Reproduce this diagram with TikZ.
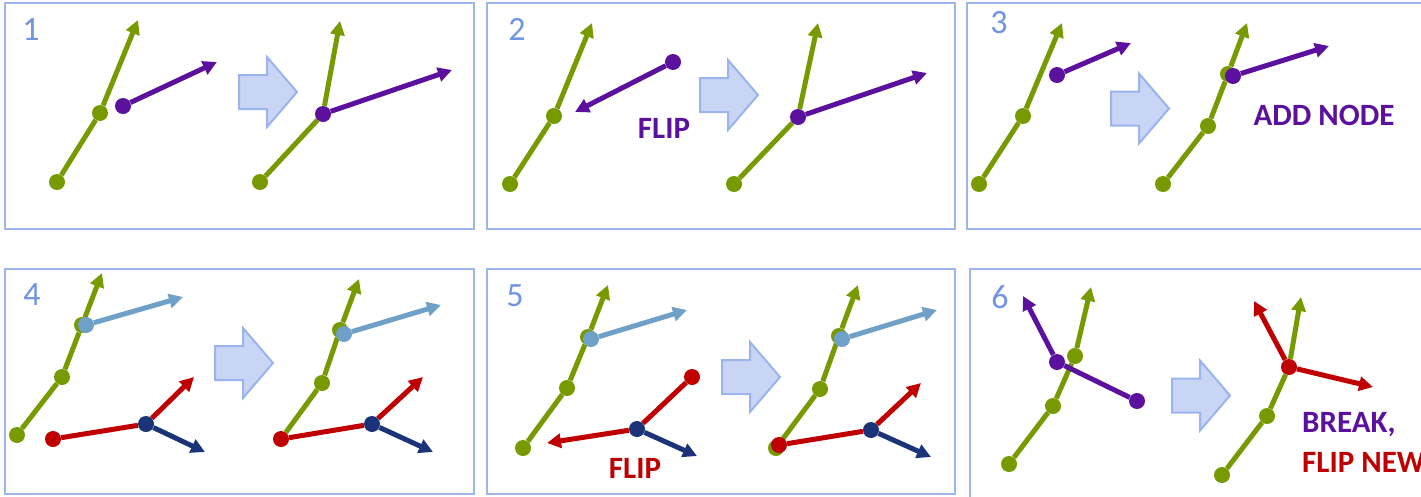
\documentclass[tikz,border=0pt]{standalone}
\usepackage{fontspec}
\setmainfont{Carlito}
\usetikzlibrary{arrows.meta}
\definecolor{cgreen}{HTML}{769A00}
\definecolor{cpurple}{HTML}{5B119E}
\definecolor{clblue}{HTML}{6FA0C8}
\definecolor{cdblue}{HTML}{1B3479}
\definecolor{cred}{HTML}{C00000}
\definecolor{cframe}{HTML}{9FB5EE}
\definecolor{cnum}{HTML}{7093E2}
\definecolor{carrfill}{HTML}{C9D5F5}
\definecolor{carrline}{HTML}{9BB3EE}
\pgfdeclarelayer{bg}
\pgfsetlayers{bg,main}
\tikzset{
  panelframe/.style={draw=cframe,line width=2pt},
  numlabel/.style={text=cnum,inner sep=0pt,font=\fontsize{34}{40}\selectfont},
  steplabel/.style={inner sep=0pt,font=\bfseries\fontsize{31}{36}\selectfont},
  dot/.style={circle,inner sep=0pt,minimum size=16pt},
  gdot/.style={dot,fill=cgreen},
  pdot/.style={dot,fill=cpurple},
  ldot/.style={dot,fill=clblue},
  ddot/.style={dot,fill=cdblue},
  rdot/.style={dot,fill=cred},
  ln/.style={line width=5pt},
  arr/.style={ln,-{Triangle[length=14pt,width=14pt]}},
  bigarrow/.pic={\path[fill=carrfill,draw=carrline,line width=2pt,line join=miter]
    (0,-17) -- (28,-17) -- (28,-35) -- (58,0) -- (28,35) -- (28,17) -- (0,17) -- cycle;}
}
\begin{document}
\begin{tikzpicture}[x=1pt,y=-1pt]
\useasboundingbox (0,0) rectangle (1421,496);
\clip (0,0) rectangle (1421,496);
% frames
\draw[panelframe] (5,3) rectangle (474,229);
\draw[panelframe] (487,3) rectangle (955,229);
\draw[panelframe] (967,3) rectangle (1430,229);
\draw[panelframe] (5,269) rectangle (474,494);
\draw[panelframe] (487,269) rectangle (955,494);
\draw[panelframe] (970,269) rectangle (1430,500);
% numbers
\node[numlabel] (n1) at (31,30) {1};
\node[numlabel] (n2) at (517,29) {2};
\node[numlabel] (n3) at (999,23) {3};
\node[numlabel] (n4) at (32,295) {4};
\node[numlabel] (n5) at (515,296) {5};
\node[numlabel] (n6) at (1000,297) {6};
% big arrows
\pic at (239,92) {bigarrow};
\pic at (700,95) {bigarrow};
\pic at (1111,108.5) {bigarrow};
\pic at (215,363) {bigarrow};
\pic at (722,377) {bigarrow};
\pic at (1172,395.5) {bigarrow};
% labels
\node[steplabel,text=cpurple,anchor=base] (t2) at (664,138) {FLIP};
\node[steplabel,text=cpurple,anchor=base] (t3) at (1324,125) {ADD NODE};
\node[steplabel,text=cred,anchor=base] (t5) at (635,478) {FLIP};
\node[steplabel,text=cpurple,anchor=base west] (t6a) at (1302,432) {BREAK,};
\node[steplabel,text=cred,anchor=base west] (t6b) at (1302,472) {FLIP NEW};
% ---------- panel 1
\node[gdot] (a1) at (57,182) {};
\node[gdot] (a2) at (100,113) {};
\coordinate (a3) at (138,20);
\node[pdot] (a4) at (123,106) {};
\coordinate (a5) at (217,62);
\node[gdot] (b1) at (260,182) {};
\node[pdot] (b2) at (323,114) {};
\coordinate (b3) at (340,21);
\coordinate (b4) at (452,70);
% ---------- panel 2
\node[gdot] (c1) at (510,184) {};
\node[gdot] (c2) at (554,116) {};
\coordinate (c3) at (592,23);
\node[pdot] (c4) at (673,62) {};
\coordinate (c5) at (575,112);
\node[gdot] (d1) at (734,184) {};
\node[pdot] (d2) at (798,117) {};
\coordinate (d3) at (818,23);
\coordinate (d4) at (927,73);
% ---------- panel 3
\node[gdot] (e1) at (979,184) {};
\node[gdot] (e2) at (1023,116) {};
\coordinate (e3) at (1062,23);
\node[pdot] (e4) at (1057,75) {};
\coordinate (e5) at (1131,43);
\node[gdot] (f1) at (1163,184) {};
\node[gdot] (f2) at (1208,126) {};
\node[gdot] (f6) at (1228,74) {};
\node[pdot] (f4) at (1233,76) {};
\coordinate (f3) at (1247,23);
\coordinate (f5) at (1329,46);
% ---------- panel 4
\node[gdot] (g1) at (17,435) {};
\node[gdot] (g2) at (62,377) {};
\node[gdot] (g6) at (82,325) {};
\node[ldot] (g4) at (86,325) {};
\coordinate (g3) at (102,273);
\coordinate (g5) at (183,297);
\node[rdot] (g7) at (53,439) {};
\node[ddot] (g8) at (146,424) {};
\coordinate (g9) at (194,377);
\coordinate (g10) at (205,452);
\node[rdot] (h1) at (281,439) {};
\node[gdot] (h2) at (322,383) {};
\node[gdot] (h6) at (340,330) {};
\node[ldot] (h4) at (344,334) {};
\coordinate (h3) at (359,279);
\coordinate (h5) at (441,305);
\node[ddot] (h8) at (372,424) {};
\coordinate (h9) at (423,377);
\coordinate (h10) at (433,452);
% ---------- panel 5
\node[gdot] (i1) at (523,448) {};
\node[gdot] (i2) at (567,388) {};
\node[gdot] (i6) at (588,337) {};
\node[ldot] (i4) at (591,339) {};
\coordinate (i3) at (608,285);
\coordinate (i5) at (687,310);
\node[rdot] (i7) at (692,377) {};
\node[ddot] (i8) at (637,429) {};
\coordinate (i9) at (547,443);
\coordinate (i10) at (697,456);
\node[gdot] (j0) at (776,448) {};
\node[rdot] (j1) at (779,445) {};
\node[gdot] (j2) at (820,389) {};
\node[gdot] (j6) at (839,336) {};
\node[ldot] (j4) at (842,339) {};
\coordinate (j3) at (858,285);
\coordinate (j5) at (937,310);
\node[ddot] (j8) at (871,430) {};
\coordinate (j9) at (921,383);
\coordinate (j10) at (931,457);
% ---------- panel 6
\node[gdot] (k1) at (1009,464) {};
\node[gdot] (k2) at (1053,406) {};
\node[gdot] (k6) at (1075,356) {};
\coordinate (k3) at (1091,287);
\node[pdot] (k4) at (1057,362) {};
\coordinate (k5) at (1023,296);
\node[pdot] (k7) at (1137,401) {};
\node[gdot] (l1) at (1222,475) {};
\node[gdot] (l2) at (1267,416) {};
\coordinate (l3) at (1301,297);
\node[rdot] (l4) at (1289,367) {};
\coordinate (l5) at (1254,301);
\coordinate (l6) at (1373,387);
% ---------- connectors
\begin{pgfonlayer}{bg}
\draw[ln,cgreen] (a1) -- (a2);
\draw[arr,cgreen] (a2) -- (a3);
\draw[arr,cpurple] (a4) -- (a5);
\draw[ln,cgreen] (b1) -- (b2);
\draw[arr,cgreen] (b2) -- (b3);
\draw[arr,cpurple] (b2) -- (b4);
\draw[ln,cgreen] (c1) -- (c2);
\draw[arr,cgreen] (c2) -- (c3);
\draw[arr,cpurple] (c4) -- (c5);
\draw[ln,cgreen] (d1) -- (d2);
\draw[arr,cgreen] (d2) -- (d3);
\draw[arr,cpurple] (d2) -- (d4);
\draw[ln,cgreen] (e1) -- (e2);
\draw[arr,cgreen] (e2) -- (e3);
\draw[arr,cpurple] (e4) -- (e5);
\draw[ln,cgreen] (f1) -- (f2);
\draw[ln,cgreen] (f2) -- (f6);
\draw[arr,cgreen] (f6) -- (f3);
\draw[arr,cpurple] (f4) -- (f5);
\draw[ln,cgreen] (g1) -- (g2);
\draw[ln,cgreen] (g2) -- (g6);
\draw[arr,cgreen] (g6) -- (g3);
\draw[arr,clblue] (g4) -- (g5);
\draw[ln,cred] (g7) -- (g8);
\draw[arr,cred] (g8) -- (g9);
\draw[arr,cdblue] (g8) -- (g10);
\draw[ln,cgreen] (h1) -- (h2);
\draw[ln,cgreen] (h2) -- (h6);
\draw[arr,cgreen] (h6) -- (h3);
\draw[arr,clblue] (h4) -- (h5);
\draw[ln,cred] (h1) -- (h8);
\draw[arr,cred] (h8) -- (h9);
\draw[arr,cdblue] (h8) -- (h10);
\draw[ln,cgreen] (i1) -- (i2);
\draw[ln,cgreen] (i2) -- (i6);
\draw[arr,cgreen] (i6) -- (i3);
\draw[arr,clblue] (i4) -- (i5);
\draw[ln,cred] (i7) -- (i8);
\draw[arr,cred] (i8) -- (i9);
\draw[arr,cdblue] (i8) -- (i10);
\draw[ln,cgreen] (j0) -- (j2);
\draw[ln,cgreen] (j2) -- (j6);
\draw[arr,cgreen] (j6) -- (j3);
\draw[arr,clblue] (j4) -- (j5);
\draw[ln,cred] (j1) -- (j8);
\draw[arr,cred] (j8) -- (j9);
\draw[arr,cdblue] (j8) -- (j10);
\draw[ln,cgreen] (k1) -- (k2);
\draw[ln,cgreen] (k2) -- (k6);
\draw[arr,cgreen] (k6) -- (k3);
\draw[arr,cpurple] (k4) -- (k5);
\draw[ln,cpurple] (k4) -- (k7);
\draw[ln,cgreen] (l1) -- (l2);
\draw[ln,cgreen] (l2) -- (l4);
\draw[arr,cgreen] (l4) -- (l3);
\draw[arr,cred] (l4) -- (l5);
\draw[arr,cred] (l4) -- (l6);
\end{pgfonlayer}
\end{tikzpicture}
\end{document}
